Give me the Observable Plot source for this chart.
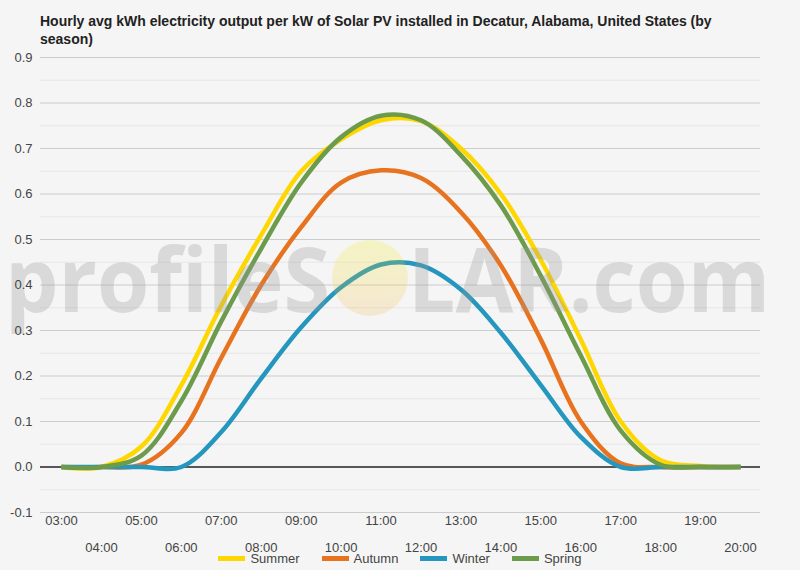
<!DOCTYPE html>
<html><head><meta charset="utf-8">
<script src="https://cdn.jsdelivr.net/npm/d3@7"></script>
<script src="https://cdn.jsdelivr.net/npm/@observablehq/plot@0.6"></script>
<style>
body{margin:0;background:#f5f5f5;font-family:"Liberation Sans",Arial,sans-serif;}
#wrap{width:800px;height:570px;overflow:hidden;position:relative}
#title{box-sizing:border-box;height:50px;padding:12px 0 0 40px;width:750px;font-weight:bold;font-size:14px;line-height:18px;color:#222}
#chart svg{display:block}
#legend{display:flex;justify-content:center;gap:22px;margin-top:-6px;font-size:13px;color:#444;height:16px;align-items:center}
.item{display:flex;align-items:center}
.sw{display:inline-block;width:27px;height:5px;margin-right:5px}
</style></head>
<body><div id="wrap"><div id="title"></div><div id="chart"></div><div id="legend"></div></div>
<script>
const titleText = "Hourly avg kWh electricity output per kW of Solar PV installed in Decatur, Alabama, United States (by season)";
const hours = [3,4,5,6,7,8,9,10,11,12,13,14,15,16,17,18,19,20];
const hourLabels = ["03:00","04:00","05:00","06:00","07:00","08:00","09:00","10:00","11:00","12:00","13:00","14:00","15:00","16:00","17:00","18:00","19:00","20:00"];
const seasons = ["Summer","Autumn","Winter","Spring"];
const summer = [0,0,0.045,0.18,0.355,0.51,0.65,0.72,0.762,0.76,0.70,0.60,0.455,0.28,0.10,0.015,0.002,0];
const autumn = [0,0,0.005,0.075,0.24,0.40,0.527,0.625,0.652,0.635,0.56,0.443,0.28,0.10,0.008,0,0,0];
const winter = [0,0,0,0,0.077,0.195,0.307,0.395,0.445,0.443,0.39,0.295,0.18,0.066,0,0,0,0];
const spring = [0,0,0.025,0.145,0.32,0.48,0.625,0.725,0.772,0.762,0.685,0.575,0.42,0.245,0.08,0.005,0,0];
const yTicks = [-0.1,0,0.1,0.2,0.3,0.4,0.5,0.6,0.7,0.8,0.9];
const yMinor = [-0.05,0.05,0.15,0.25,0.35,0.45,0.55,0.65,0.75,0.85];
const colors = ["#ffd700","#e8731f","#2596be","#6b9b4b"];

const series = [summer, autumn, winter, spring];
const rows = seasons.flatMap((s, i) => hours.map((h, j) => ({season: s, hour: h, value: series[i][j]})));
const oddHours = hours.filter((h, i) => i % 2 === 0);
const evenHours = hours.filter((h, i) => i % 2 === 1);
const fmtHour = h => hourLabels[hours.indexOf(h)];

document.getElementById("title").textContent = titleText;

function watermark(index, scales, values, dims) {
  const cx = (dims.marginLeft + dims.width - dims.marginRight) / 2;
  const cy = (dims.marginTop + dims.height - dims.marginBottom) / 2;
  const g = d3.create("svg:g").attr("pointer-events", "none").attr("text-anchor", "start");
  const grad = g.append("defs").append("linearGradient").attr("id", "sunGrad")
    .attr("x1", 0).attr("y1", 0).attr("x2", 0).attr("y2", 1);
  grad.append("stop").attr("offset", "0%").attr("stop-color", "#f2ee00");
  grad.append("stop").attr("offset", "100%").attr("stop-color", "#f0b040");
  g.append("circle").attr("cx", cx - 30).attr("cy", cy - 6.5).attr("r", 38)
    .attr("fill", "url(#sunGrad)").attr("fill-opacity", 0.2);
  const base = cy + 27.5;
  const words = [["profileS", 5, 325], ["LAR.com", 408, 362]];
  words.forEach(([w, x0, len]) => {
    g.append("text").attr("x", x0).attr("y", base).text(w)
      .attr("text-anchor", "start")
      .attr("font-family", "Open Sans, Liberation Sans, sans-serif").attr("font-weight", "bold")
      .attr("font-size", 90).attr("textLength", len).attr("lengthAdjust", "spacingAndGlyphs")
      .attr("fill", "#999").attr("fill-opacity", 0.3);
  });
  return g.node();
}

const chart = Plot.plot({
  width: 800,
  height: 506,
  marginTop: 7,
  marginBottom: 44,
  marginLeft: 40,
  marginRight: 40,
  style: {fontFamily: "Liberation Sans, Arial, sans-serif", background: "transparent", fontSize: "13px"},
  x: {domain: [2.474, 20.5]},
  y: {domain: [-0.1, 0.9]},
  color: {domain: seasons, range: colors},
  marks: [
    Plot.ruleY(yMinor, {stroke: "#e6e6e6", strokeWidth: 1}),
    Plot.ruleY(yTicks.filter(d => d !== 0), {stroke: "#cccccc", strokeWidth: 1}),
    Plot.ruleY([0], {stroke: "#222", strokeWidth: 1.3}),
    Plot.line(rows, {x: "hour", y: "value", z: "season", stroke: "season", curve: "catmull-rom",
      strokeWidth: 4.5, strokeLinecap: "butt", strokeLinejoin: "round"}),
    watermark,
    Plot.axisY({ticks: yTicks, tickSize: 0, tickPadding: 8, tickFormat: d => d.toFixed(1),
      fontSize: 13, color: "#444", label: null}),
    Plot.axisX({ticks: oddHours, tickSize: 0, tickPadding: 3, tickFormat: fmtHour,
      fontSize: 13, color: "#444", label: null}),
    Plot.axisX({ticks: evenHours, tickSize: 0, tickPadding: 3, dy: 27, tickFormat: fmtHour,
      fontSize: 13, color: "#444", label: null})
  ]
});
document.getElementById("chart").appendChild(chart);

const legend = d3.select("#legend");
seasons.forEach((s, i) => {
  const it = legend.append("div").attr("class", "item");
  it.append("span").attr("class", "sw").style("background", colors[i]);
  it.append("span").text(s);
});
</script></body></html>
